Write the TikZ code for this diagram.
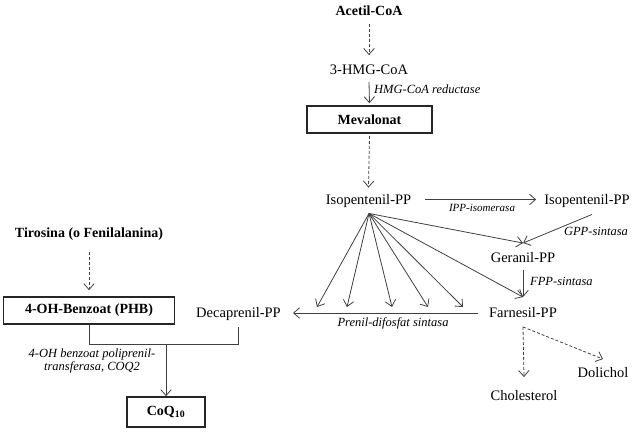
\documentclass[tikz,border=0pt]{standalone}
\usepackage{fontspec}
\setmainfont{Liberation Serif}
\usetikzlibrary{arrows.meta,calc}
\begin{document}
\begin{tikzpicture}[x=1pt,y=-1pt,
 txt/.style={inner sep=0pt, text height=9.5pt, text depth=0pt, font=\fontsize{14.5}{16}\selectfont},
 btxt/.style={inner sep=0pt, text height=9.5pt, text depth=0pt, font=\fontsize{14}{16}\selectfont\bfseries},
 lbl/.style={inner sep=0pt, font=\fontsize{12.5}{13.5}\selectfont\itshape},
 slbl/.style={inner sep=0pt, font=\fontsize{11}{13}\selectfont\itshape},
 boxn/.style={draw=black!85, line width=1.6pt, inner sep=0pt, font=\fontsize{14}{16}\selectfont\bfseries},
 arr/.style={draw=black!75, line width=0.8pt, -{Straight Barb[length=6pt,width=10.5pt]}},
 darr/.style={arr, dash pattern=on 3pt off 2pt},
 ln/.style={draw=black!75, line width=0.8pt}]
\useasboundingbox (0,0) rectangle (636,440);

% nodes
\node[btxt] (acetil) at (369,11) {Acetil-CoA};
\node[txt] (hmg) at (369,70) {3-HMG-CoA};
\node[lbl, anchor=west] (hmgr) at (374,89) {HMG-CoA reductase};
\node[boxn, minimum width=125pt, minimum height=27pt] (meva) at (369.5,119.5) {Mevalonat};
\node[txt] (iso1) at (368.5,199.5) {Isopentenil-PP};
\node[txt] (iso2) at (587,199.5) {Isopentenil-PP};
\node[slbl] (ippi) at (482,208) {IPP-isomerasa};
\node[lbl] (gpps) at (596,231) {GPP-sintasa};
\node[txt] (ger) at (523,258) {Geranil-PP};
\node[lbl, anchor=west] (fpps) at (530,281) {FPP-sintasa};
\node[txt] (farn) at (523,313) {Farnesil-PP};
\node[txt] (deca) at (238.5,313) {Decaprenil-PP};
\node[lbl] (pds) at (393,323) {Prenil-difosfat sintasa};
\node[btxt] (tir) at (89,233) {Tirosina (o Fenilalanina)};
\node[boxn, minimum width=171pt, minimum height=27pt] (phb) at (89,310.5) {4-OH-Benzoat (PHB)};
\node[boxn, minimum width=78pt, minimum height=30pt] (coq) at (166,412) {CoQ\textsubscript{10}};
\node[lbl, align=center] (cat) at (92,361) {4-OH benzoat poliprenil-\\transferasa, COQ2};
\node[txt] (chol) at (524,396) {Cholesterol};
\node[txt] (dol) at (603,373) {Dolichol};

% upper chain
\draw[darr] ([yshift=-8pt]acetil.south) -- ([yshift=10pt]hmg.north);
\draw[arr] ([yshift=-7pt]hmg.south) -- ([yshift=2pt]meva.north);
\draw[darr] ([yshift=-2pt]meva.south) -- ([yshift=7pt]iso1.north);
\draw[arr] ([xshift=14pt]iso1.east) -- ([xshift=-8pt]iso2.west);

% geranil / farnesil
\coordinate (gtop) at ([yshift=10pt]ger.north);
\coordinate (ftop) at ([yshift=11pt]farn.north);
\draw[arr] ([xshift=5pt,yshift=-10pt]iso2.south) -- (gtop);
\draw[arr] ([yshift=-7pt]ger.south) -- (ftop);

% fan
\coordinate (fan) at ([xshift=0.5pt,yshift=-9pt]iso1.south);
\coordinate (f1) at (317,307);
\coordinate (f2) at (347,307);
\coordinate (f3) at (392,307);
\coordinate (f4) at (428,307);
\coordinate (f5) at (463,307);
\foreach \t in {f1,f2,f3,f4,f5,gtop,ftop}
  \draw[arr] (fan) -- (\t);

% prenyl chain
\draw[arr] ([xshift=-11pt]farn.west) -- ([xshift=12pt]deca.east);

% left side
\draw[darr] ([yshift=-14pt]tir.south) -- ([yshift=6pt]phb.north);
\coordinate (junc) at ($(phb.south)+(0,20)$);
\draw[ln] (phb.south) -- (junc) -| ([yshift=-9pt]deca.south);
\draw[arr] (junc -| coq.north) -- (coq.north);

% lower branches
\coordinate (fb) at ([yshift=-9pt]farn.south);
\draw[darr] (fb) -- ([yshift=14pt]chol.north);
\draw[darr] (fb) -- ([yshift=9pt]dol.north);
\end{tikzpicture}
\end{document}
